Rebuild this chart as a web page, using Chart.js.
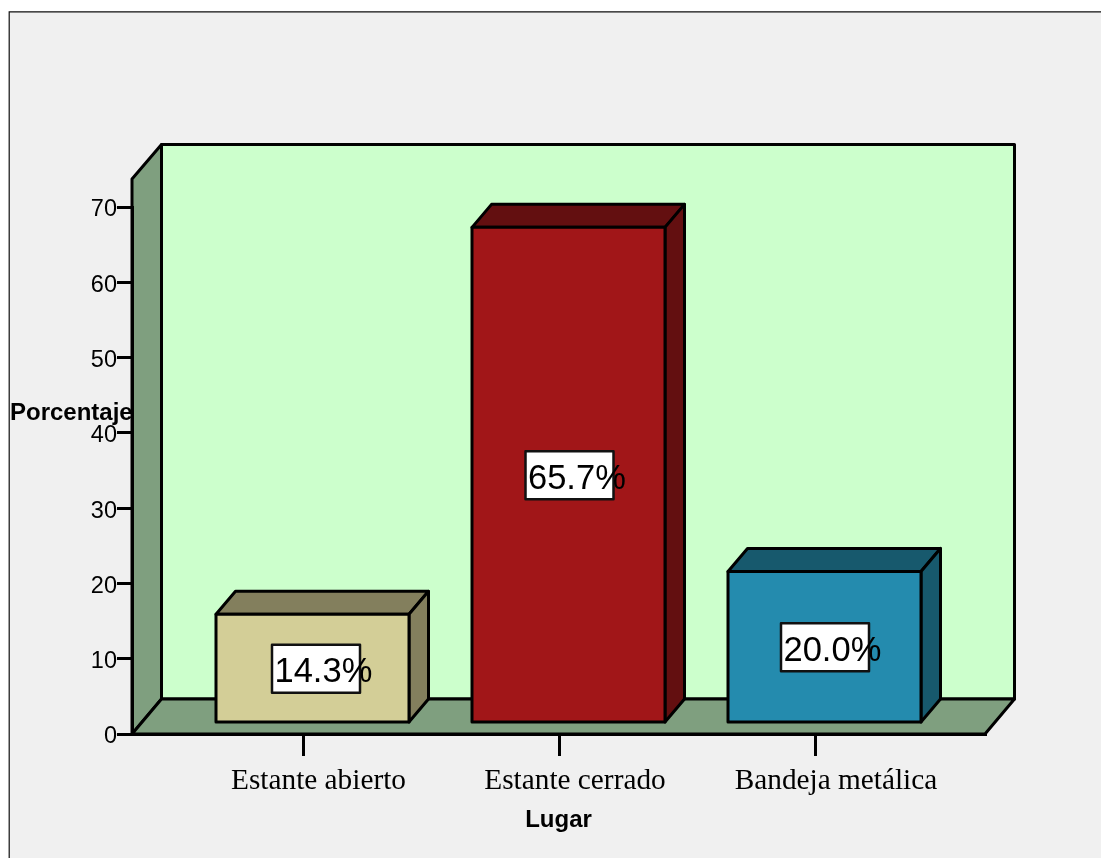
<!DOCTYPE html>
<html>
<head>
<meta charset="utf-8">
<style>html,body{margin:0;padding:0;background:#fff}canvas{display:block}</style>
<script src="https://cdn.jsdelivr.net/npm/chart.js@4"></script>
</head>
<body>
<canvas id="c" width="1101" height="858"></canvas>
<script>
const categories = ['Estante abierto', 'Estante cerrado', 'Bandeja metálica'];
const positions = [1, 2, 3];
const percentages = [14.3, 65.7, 20.0];
const valueLabels = ['14.3%', '65.7%', '20.0%'];
const frontColors = ['#d3ce97', '#a11618', '#248bae'];
const sideColors = ['#837f5d', '#630f10', '#17596d'];

const ink = '#000';
const lw = 3;
const depthX = 19.5, depthY = 23;         // bar extrusion
const wallDX = 29.5, wallDY = 35;         // plot box extrusion
const tickLabelNudge = [15.5, 16, 21];
const boxNudge = [3.5, 1, 0.5];

function poly(ctx, pts, fill) {
  ctx.beginPath();
  pts.forEach((p, i) => i ? ctx.lineTo(p[0], p[1]) : ctx.moveTo(p[0], p[1]));
  ctx.closePath();
  if (fill) { ctx.fillStyle = fill; ctx.fill(); }
  ctx.lineWidth = lw; ctx.strokeStyle = ink; ctx.lineJoin = 'round'; ctx.stroke();
}

const scene = {
  id: 'scene',
  beforeDraw(chart) {
    const { ctx, chartArea: a, width, height } = chart;
    ctx.save();
    ctx.fillStyle = '#fff'; ctx.fillRect(0, 0, width, height);
    ctx.fillStyle = '#f0f0f0'; ctx.fillRect(9, 11.5, width - 9, height - 11.5);
    ctx.strokeStyle = '#111'; ctx.lineWidth = 1.2;
    ctx.beginPath(); ctx.moveTo(9.2, height); ctx.lineTo(9.2, 11.8); ctx.lineTo(width, 11.8); ctx.stroke();
    const L = a.left, B = a.bottom, R = a.right;
    const wallTop = 144.5, sideTop = 179;
    poly(ctx, [[L + wallDX, wallTop], [R + wallDX, wallTop], [R + wallDX, B - wallDY], [L + wallDX, B - wallDY]], '#ccffcc');
    poly(ctx, [[L, sideTop], [L + wallDX, wallTop], [L + wallDX, B - wallDY], [L, B]], '#7f9f7f');
    poly(ctx, [[L, B], [L + wallDX, B - wallDY], [R + wallDX, B - wallDY], [R, B]], '#7f9f7f');
    ctx.restore();
    // per-label horizontal placement of the category axis labels
    const xs = chart.scales.x;
    xs.getLabelItems(a).forEach((it, i) => {
      if (!it.nudged) { it.options.translation[0] += tickLabelNudge[i]; it.nudged = true; }
    });
  },
  beforeDatasetsDraw(chart) {
    const { ctx } = chart;
    ctx.save();
    chart.getDatasetMeta(0).data.forEach((bar, i) => {
      const l = bar.x - bar.width / 2, r = bar.x + bar.width / 2;
      poly(ctx, [[l, bar.y], [l + depthX, bar.y - depthY], [r + depthX, bar.y - depthY], [r, bar.y]], sideColors[i]);
      poly(ctx, [[r, bar.y], [r + depthX, bar.y - depthY], [r + depthX, bar.base - depthY], [r, bar.base]], sideColors[i]);
    });
    ctx.restore();
  },
  afterDatasetsDraw(chart) {
    const { ctx } = chart;
    ctx.save();
    chart.getDatasetMeta(0).data.forEach((bar, i) => {
      const l = bar.x - bar.width / 2, r = bar.x + bar.width / 2;
      poly(ctx, [[l, bar.y], [r, bar.y], [r, bar.base], [l, bar.base]], null);
      const cx = bar.x + boxNudge[i], cy = (bar.y + bar.base) / 2 + 0.5;
      ctx.fillStyle = '#fff';
      ctx.fillRect(cx - 44, cy - 24, 88, 48);
      ctx.lineWidth = 2.5; ctx.strokeStyle = '#111';
      ctx.strokeRect(cx - 44, cy - 24, 88, 48);
      ctx.fillStyle = ink;
      ctx.font = '34.5px "Liberation Sans"';
      ctx.textAlign = 'left'; ctx.textBaseline = 'alphabetic';
      ctx.fillText(valueLabels[i], cx - 41.5, cy + 13.5);
    });
    ctx.font = 'bold 24px "Liberation Sans"';
    ctx.fillStyle = ink;
    ctx.textAlign = 'left'; ctx.textBaseline = 'alphabetic';
    ctx.fillText('Porcentaje', 10, 419.5);
    ctx.restore();
  }
};

new Chart(document.getElementById('c'), {
  type: 'bar',
  data: {
    datasets: [{
      label: 'Porcentaje',
      data: positions.map((p, i) => ({ x: p, y: percentages[i] })),
      xAxisID: 'xBars',
      yAxisID: 'yBars',
      backgroundColor: frontColors,
      borderWidth: 0,
      barThickness: 193
    }]
  },
  plugins: [scene],
  options: {
    responsive: false,
    animation: false,
    layout: { padding: { left: 0, top: 207, right: 116, bottom: 0 } },
    plugins: { legend: { display: false }, tooltip: { enabled: false } },
    scales: {
      x: {
        type: 'linear',
        position: 'bottom',
        offset: false,
        min: 1 - 171 / 256,
        max: 3 + 170 / 256,
        afterFit: s => { s.height = 124; },
        afterBuildTicks: s => { s.ticks = positions.map(v => ({ value: v })); },
        ticks: {
          autoSkip: false, maxRotation: 0, minRotation: 0, padding: 8,
          color: ink, font: { family: '"Liberation Serif"', size: 29.3 },
          callback: v => categories[v - 1]
        },
        grid: { offset: false, drawOnChartArea: false, drawTicks: true, tickLength: 22, color: ink, lineWidth: lw },
        border: { display: true, color: ink, width: lw },
        title: {
          display: true, text: 'Lugar', color: ink,
          font: { family: '"Liberation Sans"', size: 24, weight: 'bold' },
          padding: { top: 0, bottom: 23 }
        }
      },
      y: {
        type: 'linear',
        position: 'left',
        min: 0, max: 70,
        afterFit: s => { s.width = 132; },
        ticks: {
          stepSize: 10, padding: 0, color: ink, labelOffset: 3,
          font: { family: '"Liberation Sans"', size: 23.5 }
        },
        grid: { drawOnChartArea: false, drawTicks: true, tickLength: 15, color: ink, lineWidth: lw },
        border: { display: true, color: ink, width: lw }
      },
      xBars: {
        type: 'linear', display: false, position: 'bottom', offset: false,
        min: 1 - 180.5 / 256,
        max: 3 + 160.5 / 256
      },
      yBars: {
        type: 'linear', display: false, position: 'left',
        min: -1.594, max: 68.406
      }
    }
  }
});
</script>
</body>
</html>
